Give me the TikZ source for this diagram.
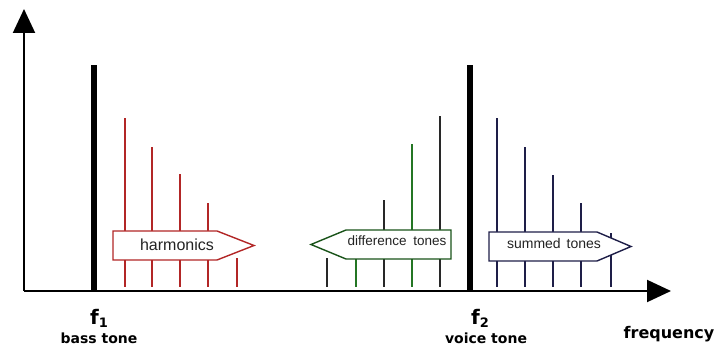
\documentclass[tikz,border=0pt]{standalone}
\usepackage{fontspec}
\setmainfont{Liberation Sans}
\newfontfamily\labelfont{DejaVu Sans}
\usetikzlibrary{arrows.meta}

\definecolor{harmred}{RGB}{178,38,38}
\definecolor{diffgreen}{RGB}{36,118,36}
\definecolor{diffdark}{RGB}{40,40,40}
\definecolor{sumnavy}{RGB}{30,30,72}
\definecolor{textgray}{RGB}{35,35,35}

\tikzset{
  axis/.style={line width=2pt, -{Triangle[length=24pt,width=22pt]}},
  fundamental/.style={line width=6pt},
  bandarrow/.style={line width=1.4pt, fill=white, line join=miter},
  bandtext/.style={text=textgray, inner sep=0pt, anchor=center},
  freqlabel/.style={inner sep=0pt, anchor=base, font=\labelfont\bfseries},
}

\begin{document}
\begin{tikzpicture}[x=1pt,y=-1pt]
\useasboundingbox (0,0) rectangle (728,347);

% axes
\coordinate (origin) at (24,291);
\coordinate (xend) at (671,291);
\coordinate (yend) at (24,9);
\draw[axis] (origin) -- (xend);
\draw[axis] (origin) -- (yend);

% fundamentals
\draw[fundamental] (94,291) -- (94,65);
\draw[fundamental] (470,291) -- (470,65);

% harmonics of the bass tone
\foreach \x/\top/\w in {125/118/1.5, 152/147/2.2, 180/174/1.5, 208/203/2.2, 237/258/1.5}
  \draw[harmred, line width=\w pt] (\x,287) -- (\x,\top);

% difference tones
\foreach \x/\top/\c/\w in {327/258/diffdark/1.4, 356/258/diffgreen/2.2, 384/200/diffdark/1.5, 412/144/diffgreen/2.4, 440/116/diffdark/1.5}
  \draw[\c, line width=\w pt] (\x,287) -- (\x,\top);

% summed tones
\foreach \x/\top/\w in {497/118/1.6, 525/147/2.4, 553/175/1.6, 581/203/2.4, 611/233/1.6}
  \draw[sumnavy, line width=\w pt] (\x,287) -- (\x,\top);

% band arrows
\draw[bandarrow, draw=harmred] (113,231) -- (217,231) -- (254,245.5) -- (217,260) -- (113,260) -- cycle;
\node[bandtext, font=\fontsize{16}{16}\selectfont] (harm) at (177,245) {harmonics};

\draw[bandarrow, draw=diffgreen!70!black] (311,244.5) -- (346,230) -- (451,230) -- (451,259) -- (346,259) -- cycle;
\node[bandtext, font=\fontsize{13.5}{13.5}\selectfont] (diff) at (397,241) {difference\hspace{3pt} tones};

\draw[bandarrow, draw=sumnavy] (489,232) -- (597,232) -- (631,246.5) -- (597,261) -- (489,261) -- cycle;
\node[bandtext, font=\fontsize{14}{14}\selectfont] (sum) at (554,243) {summed\hspace{2pt} tones};

% frequency labels
\node[freqlabel, font=\labelfont\bfseries\fontsize{20}{20}\selectfont] (f1) at (99,324) {f\raisebox{-3pt}{\fontsize{13}{13}\selectfont 1}};
\node[freqlabel, font=\labelfont\bfseries\fontsize{14}{14}\selectfont] (bass) at (99,343.5) {bass tone};
\node[freqlabel, font=\labelfont\bfseries\fontsize{20}{20}\selectfont] (f2) at (480,324) {f\raisebox{-3pt}{\fontsize{13}{13}\selectfont 2}};
\node[freqlabel, font=\labelfont\bfseries\fontsize{14}{14}\selectfont] (voice) at (486,343.5) {voice tone};
\node[freqlabel, font=\labelfont\bfseries\fontsize{16}{16}\selectfont] (freq) at (669,338) {frequency};
\end{tikzpicture}
\end{document}
